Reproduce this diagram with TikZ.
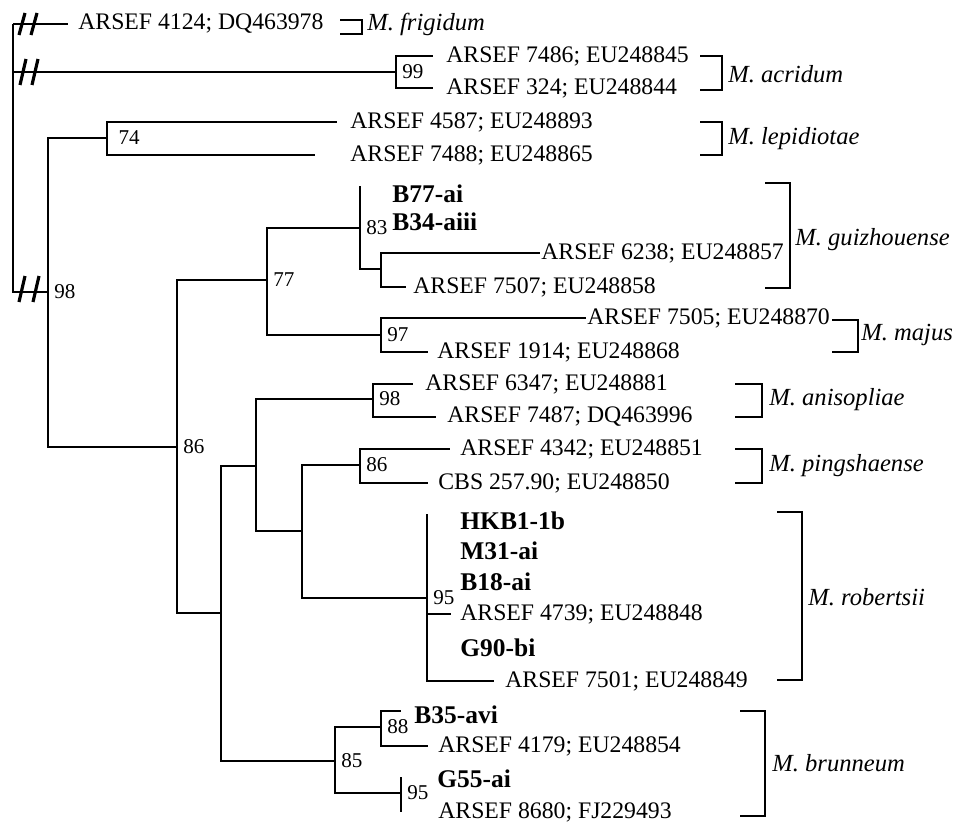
\documentclass[tikz,border=0pt]{standalone}
\usepackage{fontspec}
\setmainfont{Liberation Serif}

\begin{document}
\begin{tikzpicture}[x=0.02cm, y=-0.02cm,
  br/.style={line width=1.1pt},
  clade/.style={line width=1.6pt},
  cut/.style={line width=1.8pt},
  leaf/.style={anchor=west, inner sep=0pt, font=\fontsize{13.5}{16}\selectfont},
  bleaf/.style={leaf, font=\fontsize{14.5}{17}\selectfont\bfseries},
  bs/.style={anchor=west, inner xsep=3.4pt, inner ysep=0pt, font=\fontsize{12}{14}\selectfont},
  sp/.style={anchor=west, inner sep=0pt, font=\fontsize{14}{17}\selectfont\itshape}]
\useasboundingbox (0,0) rectangle (969,828);

% internal nodes
\path
(13,24)   coordinate (root)
(396,72)  coordinate (n99)
(48,292)  coordinate (n98)
(107,138) coordinate (n74)
(177,447) coordinate (n86a)
(267,280) coordinate (n77)
(360,228) coordinate (n83)
(360,186) coordinate (n83top)
(381,269) coordinate (n6238)
(381,335) coordinate (n97)
(221,613) coordinate (nX)
(256,466) coordinate (nY)
(373,399) coordinate (n98b)
(302,531) coordinate (nZ)
(360,465) coordinate (n86b)
(427,598) coordinate (n95a)
(427,514) coordinate (n95atop)
(335,761) coordinate (n85)
(381,727) coordinate (n88)
(401,793) coordinate (n95b)
(401,777) coordinate (n95btop)
(401,812) coordinate (n95bbot);

% branch tips
\path
(68,24)   coordinate (t4124)
(433,56)  coordinate (t7486)
(433,88)  coordinate (t324)
(337,122) coordinate (t4587)
(315,155) coordinate (t7488)
(540,253) coordinate (t6238)
(406,287) coordinate (t7507)
(586,318) coordinate (t7505)
(428,352) coordinate (t1914)
(413,384) coordinate (t6347)
(436,417) coordinate (t7487)
(450,449) coordinate (t4342)
(428,483) coordinate (t25790)
(451,614) coordinate (t4739)
(494,681) coordinate (t7501)
(401,711) coordinate (tB35)
(428,746) coordinate (t4179);

% leaves
\path
(78,24)   node[leaf]  (a4124) {ARSEF 4124; DQ463978}
(446,56)  node[leaf]  (a7486) {ARSEF 7486; EU248845}
(446,88)  node[leaf]  (a324)  {ARSEF 324; EU248844}
(350,122) node[leaf]  (a4587) {ARSEF 4587; EU248893}
(350,155) node[leaf]  (a7488) {ARSEF 7488; EU248865}
(392,194) node[bleaf] (b77)   {B77-ai}
(392,222) node[bleaf] (b34)   {B34-aiii}
(541,253) node[leaf]  (a6238) {ARSEF 6238; EU248857}
(413,287) node[leaf]  (a7507) {ARSEF 7507; EU248858}
(587,318) node[leaf]  (a7505) {ARSEF 7505; EU248870}
(437,352) node[leaf]  (a1914) {ARSEF 1914; EU248868}
(425,384) node[leaf]  (a6347) {ARSEF 6347; EU248881}
(447,417) node[leaf]  (a7487) {ARSEF 7487; DQ463996}
(460,449) node[leaf]  (a4342) {ARSEF 4342; EU248851}
(438,483) node[leaf]  (c25790) {CBS 257.90; EU248850}
(460,521) node[bleaf] (hkb1)  {HKB1-1b}
(460,551) node[bleaf] (m31)   {M31-ai}
(460,582) node[bleaf] (b18)   {B18-ai}
(460,614) node[leaf]  (a4739) {ARSEF 4739; EU248848}
(460,648) node[bleaf] (g90)   {G90-bi}
(505,681) node[leaf]  (a7501) {ARSEF 7501; EU248849}
(414,715) node[bleaf] (b35)   {B35-avi}
(438,746) node[leaf]  (a4179) {ARSEF 4179; EU248854}
(437,779) node[bleaf] (g55)   {G55-ai}
(438,812) node[leaf]  (a8680) {ARSEF 8680; FJ229493};

% branches
\draw[br] (root) -- (t4124);
\draw[br] (root) |- (n99);
\draw[br] (root) |- (n98);
\draw[br] (n99) |- (t7486);
\draw[br] (n99) |- (t324);
\draw[br] (n98) |- (n74);
\draw[br] (n98) |- (n86a);
\draw[br] (n74) |- (t4587);
\draw[br] (n74) |- (t7488);
\draw[br] (n86a) |- (n77);
\draw[br] (n86a) |- (nX);
\draw[br] (n77) |- (n83);
\draw[br] (n77) |- (n97);
\draw[br] (n83top) |- (n6238);
\draw[br] (n6238) |- (t6238);
\draw[br] (n6238) |- (t7507);
\draw[br] (n97) |- (t7505);
\draw[br] (n97) |- (t1914);
\draw[br] (nX) |- (nY);
\draw[br] (nX) |- (n85);
\draw[br] (nY) |- (n98b);
\draw[br] (nY) |- (nZ);
\draw[br] (n98b) |- (t6347);
\draw[br] (n98b) |- (t7487);
\draw[br] (nZ) |- (n86b);
\draw[br] (nZ) |- (n95a);
\draw[br] (n86b) |- (t4342);
\draw[br] (n86b) |- (t25790);
\draw[br] (n95atop) |- (t4739);
\draw[br] (n95a) |- (t7501);
\draw[br] (n85) |- (n88);
\draw[br] (n85) |- (n95b);
\draw[br] (n88) |- (tB35);
\draw[br] (n88) |- (t4179);
\draw[br] (n95btop) -- (n95bbot);

% broken branches
\draw[cut] (22,24)  ++(-3,11) -- ++(6,-22);
\draw[cut] (34,24)  ++(-3,11) -- ++(6,-22);
\draw[cut] (23,72)  ++(-3,13) -- ++(6,-26);
\draw[cut] (35,72)  ++(-3,13) -- ++(6,-26);
\draw[cut] (22,289) ++(-3,13) -- ++(6,-26);
\draw[cut] (36,289) ++(-3,13) -- ++(6,-26);

% bootstrap values
\node[bs] (s99)  at (n99)  {99};
\node[bs] (s98)  at (n98)  {98};
\node[bs, xshift=3pt] (s74) at (n74) {74};
\node[bs] (s83)  at (n83)  {83};
\node[bs] (s77)  at (n77)  {77};
\node[bs] (s97)  at (n97)  {97};
\node[bs] (s86a) at (n86a) {86};
\node[bs] (s98b) at (n98b) {98};
\node[bs] (s86b) at (n86b) {86};
\node[bs] (s95a) at (n95a) {95};
\node[bs] (s85)  at (n85)  {85};
\node[bs] (s88)  at (n88)  {88};
\node[bs] (s95b) at (n95b) {95};

% species brackets
\draw[clade] (340,20)  -| (362,34)  -- (340,34);
\draw[clade] (700,56)  -| (722,90)  -- (700,90);
\draw[clade] (700,122) -| (722,155) -- (700,155);
\draw[clade] (765,183) -| (790,288) -- (765,288);
\draw[clade] (832,320) -| (858,352) -- (832,352);
\draw[clade] (735,384) -| (762,417) -- (735,417);
\draw[clade] (735,449) -| (762,483) -- (735,483);
\draw[clade] (777,512) -| (802,680) -- (777,680);
\draw[clade] (740,711) -| (765,816) -- (740,816);

\node[sp] (frigidum)    at (367,24)  {M. frigidum};
\node[sp] (acridum)     at (728,74)  {M. acridum};
\node[sp] (lepidiotae)  at (728,139) {M. lepidiotae};
\node[sp] (guizhouense) at (795,240) {M. guizhouense};
\node[sp] (majus)       at (861,335) {M. majus};
\node[sp] (anisopliae)  at (769,400) {M. anisopliae};
\node[sp] (pingshaense) at (769,466) {M. pingshaense};
\node[sp] (robertsii)   at (808,597) {M. robertsii};
\node[sp] (brunneum)    at (772,763) {M. brunneum};
\end{tikzpicture}
\end{document}
